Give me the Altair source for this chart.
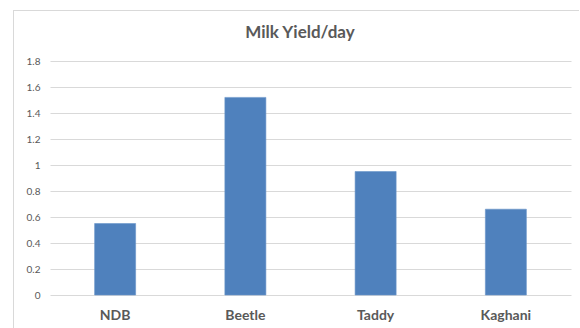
import altair as alt
import pandas as pd

categories = ["NDB", "Beetle", "Taddy", "Kaghani"]
values = [0.55, 1.52, 0.95, 0.66]
y_ticks = [0, 0.2, 0.4, 0.6, 0.8, 1.0, 1.2, 1.4, 1.6, 1.8]
title_text = "Milk Yield/day"

df = pd.DataFrame({"breed": categories, "yield": values})

FONT = "Lato"
GRAY = "#595959"
LINE = "#D9D9D9"

bars = alt.Chart(df).mark_bar(color="#4F81BD", stroke="#6A95C9", strokeWidth=0.6).encode(
    x=alt.X("breed:N", sort=categories, title=None,
            scale=alt.Scale(paddingInner=0.685, paddingOuter=0.3425),
            axis=alt.Axis(labelAngle=0, labelFont=FONT, labelFontSize=14, labelFontWeight="bold",
                          labelColor=GRAY, labelPadding=13, ticks=False, domain=False, grid=False)),
    y=alt.Y("yield:Q", title=None,
            scale=alt.Scale(domain=[0, 1.8], nice=False),
            axis=alt.Axis(values=y_ticks, labelExpr="format(datum.value, '~g')",
                          labelFont=FONT, labelFontSize=10, labelColor=GRAY, labelPadding=10,
                          ticks=False, domain=False, grid=True, gridColor=LINE, gridWidth=1)),
)

border_left = alt.Chart(df).mark_rule(color=LINE, strokeWidth=1).encode(
    x=alt.value(-36.5), y=alt.value(-50.5), y2=alt.value(300)
)
border_top = alt.Chart(df).mark_rule(color=LINE, strokeWidth=1).encode(
    x=alt.value(-36.5), x2=alt.value(529), y=alt.value(-50.5)
)

title = alt.Chart(pd.DataFrame({"t": [title_text]})).mark_text(
    font=FONT, fontSize=17, fontWeight="bold", color=GRAY, baseline="alphabetic", align="center"
).encode(text="t:N", x=alt.value(250), y=alt.value(-23))

chart = alt.layer(border_left, border_top, bars, title).properties(
    width=521, height=234,
    autosize=alt.AutoSizeParams(type="none"),
    padding={"left": 50, "top": 61, "right": 9, "bottom": 33},
).configure(background="white").configure_view(stroke="transparent", strokeWidth=0)

chart.save("out.html", embed_options={"renderer": "svg", "actions": False})
